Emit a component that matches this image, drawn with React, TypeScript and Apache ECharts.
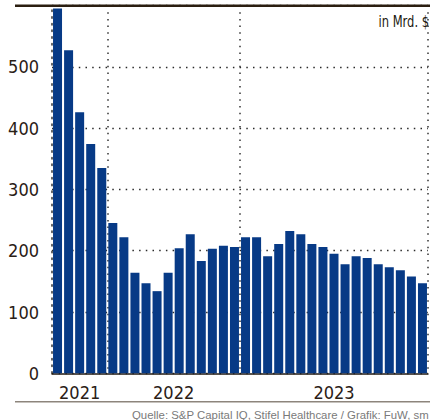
import React, { useEffect, useRef } from "react";
import * as echarts from "echarts";

// ---- data ----
const years = ["2021", "2022", "2023"];
const values2021 = [595, 527, 426, 374, 335];
const values2022 = [245, 222, 164, 147, 134, 164, 204, 227, 183, 203, 208, 206];
const values2023 = [222, 222, 191, 211, 232, 227, 211, 206, 195, 178, 191, 188, 178, 173, 168, 158, 147];
const yTicks = [0, 100, 200, 300, 400, 500, 600];
const unitLabel = "in Mrd. $";
const sourceText = "Quelle: S&P Capital IQ, Stifel Healthcare / Grafik: FuW, sm";

const groups = [values2021, values2022, values2023];

const NARROW = '"Liberation Sans Narrow", "DejaVu Sans Condensed", sans-serif';
const TEXT = "#2a2016";
const BAR = "#073a86";
const DOT: number[] = [1.5, 5.2];

export default function App() {
  const ref = useRef<HTMLDivElement>(null);

  useEffect(() => {
    if (!ref.current) return;
    const chart = echarts.init(ref.current, undefined, { renderer: "svg" });

    const categories: string[] = [];
    const values: number[] = [];
    const boundaries: number[] = [];
    const centers: number[] = [];
    let start = 0;
    groups.forEach((g, gi) => {
      g.forEach((v, i) => {
        categories.push(`${years[gi]}-${i + 1}`);
        values.push(v);
      });
      centers.push(start + g.length / 2);
      start += g.length;
      if (gi < groups.length - 1) boundaries.push(start);
    });
    const total = values.length;

    chart.setOption({
      animation: false,
      grid: { left: 52, right: 2, top: 5.5, bottom: 420 - 373.3, containLabel: false },
      xAxis: [
        {
          type: "category",
          data: categories,
          boundaryGap: true,
          axisLine: { show: true, lineStyle: { color: "#221a12", width: 1.5 } },
          axisTick: { show: false },
          axisLabel: { show: false },
          splitLine: {
            show: true,
            interval: (index: number) => boundaries.indexOf(index) >= 0,
            lineStyle: { color: "#333", width: 1.5, type: DOT },
          },
        },
        {
          type: "value",
          min: 0,
          max: total,
          position: "bottom",
          axisLine: { show: false },
          axisTick: { show: false },
          splitLine: { show: false },
          axisLabel: {
            show: true,
            customValues: centers,
            formatter: (v: number) => {
              const i = centers.findIndex((c) => Math.abs(c - v) < 1e-6);
              return i >= 0 ? years[i] : "";
            },
            margin: 10,
            fontSize: 18,
            fontFamily: NARROW,
            color: TEXT,
          },
        },
      ],
      yAxis: {
        type: "value",
        min: yTicks[0],
        max: yTicks[yTicks.length - 1],
        interval: yTicks[1] - yTicks[0],
        offset: 3,
        axisLine: { show: true, lineStyle: { color: "#333", width: 1.5, type: DOT } },
        axisTick: { show: false },
        axisLabel: {
          formatter: (v: number) => (v === yTicks[yTicks.length - 1] ? "" : String(v)),
          margin: 10,
          fontSize: 18,
          fontFamily: NARROW,
          color: TEXT,
        },
        splitLine: { show: true, lineStyle: { color: "#2a2a2a", width: 1.4, type: DOT } },
      },
      series: [
        {
          type: "bar",
          xAxisIndex: 0,
          data: values,
          barWidth: 9,
          itemStyle: { color: BAR },
        },
      ],
      graphic: [
        {
          type: "line",
          shape: { x1: 15, y1: 5.7, x2: 430, y2: 5.7 },
          style: { stroke: "#2b1e10", lineWidth: 2.5 },
          z: 100,
        },
        {
          type: "line",
          shape: { x1: 15, y1: 401.7, x2: 430, y2: 401.7 },
          style: { stroke: "#8d857c", lineWidth: 1.5 },
        },
        {
          type: "text",
          x: 429,
          y: 21,
          scaleX: 0.8,
          style: {
            text: unitLabel,
            fontSize: 16,
            fontFamily: NARROW,
            fill: "#231a10",
            verticalAlign: "middle",
            align: "right",
          },
        },
        {
          type: "text",
          x: 132,
          y: 415,
          style: {
            text: sourceText,
            fontSize: 11.4,
            fontFamily: '"Liberation Sans", Arial, sans-serif',
            fill: "#7a7a7a",
            verticalAlign: "middle",
            align: "left",
          },
        },
      ],
    });

    return () => chart.dispose();
  }, []);

  return (
    <div
      ref={ref}
      style={{ position: "absolute", left: 0, top: 0, width: 430, height: 420, background: "#fff" }}
    />
  );
}
